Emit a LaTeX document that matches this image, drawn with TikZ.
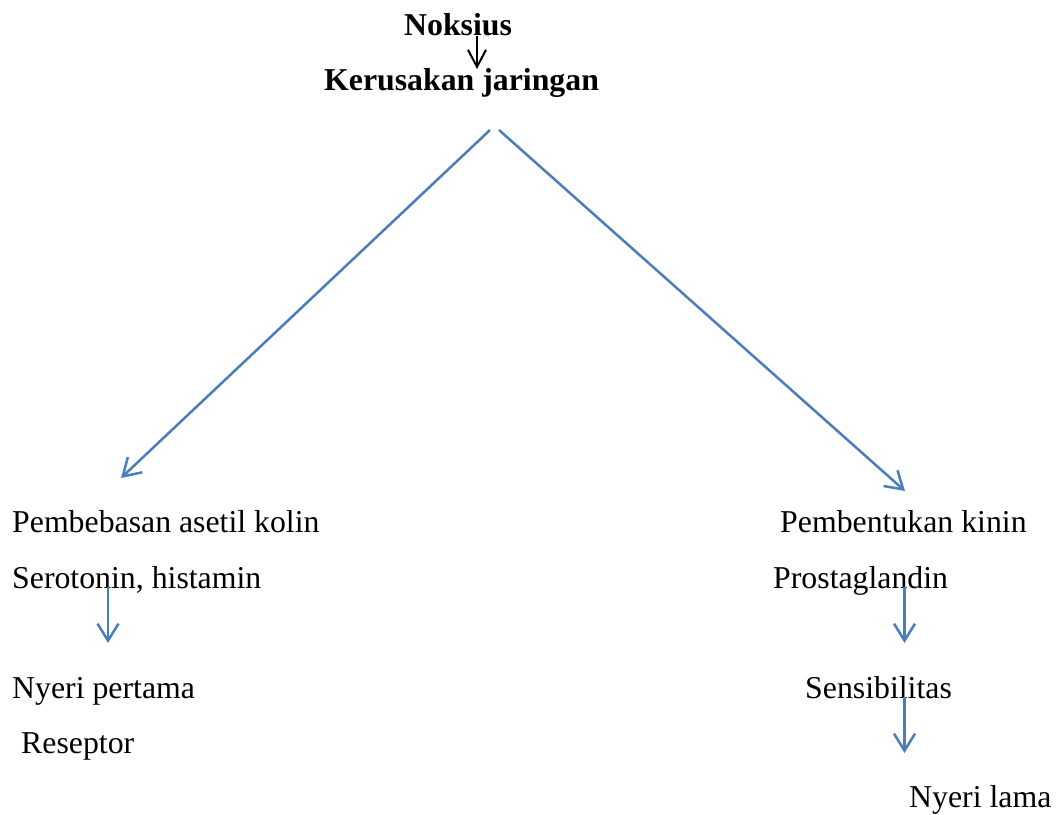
\documentclass[tikz,border=0pt]{standalone}
\usepackage{fontspec}
\setmainfont{Liberation Serif}
\usetikzlibrary{arrows.meta}
\definecolor{wordblue}{HTML}{4A7EBB}
\tikzset{
  lbl/.style={anchor=base west, inner sep=0pt, font=\fontsize{31.8}{38}\selectfont},
  blbl/.style={lbl, font=\fontsize{31.8}{38}\selectfont\bfseries},
  bluearrow/.style={draw=wordblue, line width=2.5pt, -{Straight Barb[length=17pt,width=21pt,line width=2.5pt]}},
  blackarrow/.style={draw=black, line width=2pt, -{Straight Barb[length=17pt,width=18pt,line width=2pt]}}
}
\begin{document}
\begin{tikzpicture}[x=1pt,y=-1pt]
\useasboundingbox (0,0) rectangle (1056,814);
\node[blbl] (nok) at (404,35) {Noksius};
\node[blbl] (ker) at (324,90) {Kerusakan jaringan};
\node[lbl] (pem) at (12,532) {Pembebasan asetil kolin};
\node[lbl] (ser) at (12,588) {Serotonin, histamin};
\node[lbl] (nyp) at (12,698) {Nyeri pertama};
\node[lbl] (res) at (21,753) {Reseptor};
\node[lbl] (kin) at (780,532) {Pembentukan kinin};
\node[lbl] (pro) at (773,588) {Prostaglandin};
\node[lbl] (sen) at (805,698) {Sensibilitas};
\node[lbl] (nyl) at (909,807) {Nyeri lama};
\coordinate (k1) at (477,36);
\coordinate (k2) at (477,69);
\coordinate (kl) at (490,130);
\coordinate (kr) at (499,130);
\coordinate (pl) at (121,478);
\coordinate (pr) at (905,491);
\coordinate (s1) at (108,587);
\coordinate (s2) at (108,643);
\coordinate (p1) at (904.5,587);
\coordinate (p2) at (904.5,643);
\coordinate (q1) at (904.5,697);
\coordinate (q2) at (904.5,753);
\draw[blackarrow] (k1) -- (k2);
\draw[bluearrow] (kl) -- (pl);
\draw[bluearrow] (kr) -- (pr);
\draw[bluearrow] (s1) -- (s2);
\draw[bluearrow] (p1) -- (p2);
\draw[bluearrow] (q1) -- (q2);
\end{tikzpicture}
\end{document}
